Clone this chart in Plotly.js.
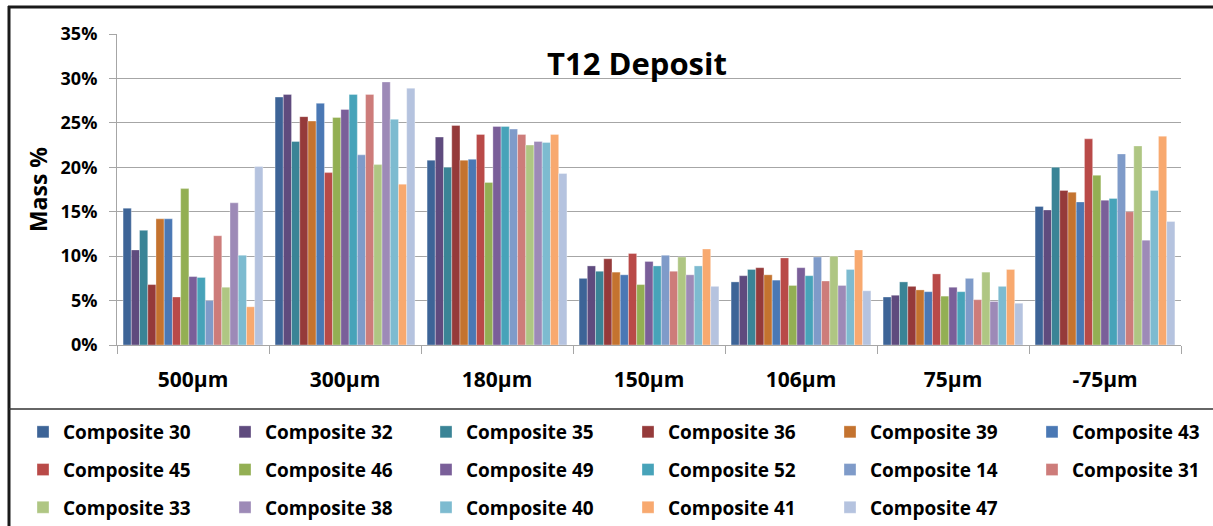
<!DOCTYPE html>
<html>
<head>
<meta charset="utf-8">
<script src="https://cdn.plot.ly/plotly-3.0.1.min.js"></script>
<style>
  html, body { margin: 0; padding: 0; background: #fff; }
  #chart { width: 1213px; height: 526px; }
</style>
</head>
<body>
<div id="chart"></div>
<script>
const sizes = ["500µm", "300µm", "180µm", "150µm", "106µm", "75µm", "-75µm"];

const composites = [
  "Composite 30", "Composite 32", "Composite 35", "Composite 36", "Composite 39", "Composite 43",
  "Composite 45", "Composite 46", "Composite 49", "Composite 52", "Composite 14", "Composite 31",
  "Composite 33", "Composite 38", "Composite 40", "Composite 41", "Composite 47"
];

// mass % per size fraction, same order as sizes
const c30 = [15.4, 27.9, 20.8, 7.5, 7.1, 5.4, 15.6];
const c32 = [10.7, 28.2, 23.4, 8.9, 7.8, 5.6, 15.2];
const c35 = [12.9, 22.9, 20.0, 8.3, 8.5, 7.1, 20.0];
const c36 = [6.8, 25.7, 24.7, 9.7, 8.7, 6.6, 17.4];
const c39 = [14.2, 25.2, 20.8, 8.2, 7.9, 6.2, 17.2];
const c43 = [14.2, 27.2, 20.9, 7.9, 7.3, 6.0, 16.1];
const c45 = [5.4, 19.4, 23.7, 10.3, 9.8, 8.0, 23.2];
const c46 = [17.6, 25.6, 18.3, 6.8, 6.7, 5.5, 19.1];
const c49 = [7.7, 26.5, 24.6, 9.4, 8.7, 6.5, 16.3];
const c52 = [7.6, 28.2, 24.6, 8.9, 7.8, 6.0, 16.5];
const c14 = [5.0, 21.4, 24.3, 10.1, 9.9, 7.5, 21.5];
const c31 = [12.3, 28.2, 23.7, 8.3, 7.2, 5.1, 15.0];
const c33 = [6.5, 20.3, 22.5, 9.9, 10.0, 8.2, 22.4];
const c38 = [16.0, 29.6, 22.9, 7.9, 6.7, 4.9, 11.8];
const c40 = [10.1, 25.4, 22.8, 8.9, 8.5, 6.6, 17.4];
const c41 = [4.3, 18.1, 23.7, 10.8, 10.7, 8.5, 23.5];
const c47 = [20.1, 28.9, 19.3, 6.6, 6.1, 4.7, 13.9];

const seriesValues = [c30, c32, c35, c36, c39, c43, c45, c46, c49, c52, c14, c31, c33, c38, c40, c41, c47];

const colors = [
  "#3d6497", "#5f4b7e", "#3a8496", "#953a3a", "#c4732f", "#4a78b4",
  "#b94a48", "#93af53", "#7a5f99", "#47a3b9", "#7f9bc9", "#cd7c7a",
  "#afc683", "#9d8ab7", "#7dbbd0", "#f8a96f", "#b5c3df"
];

// plot area in pixels, used to place frame lines and legends
const plotL = 117, plotR = 1181, plotT = 34, plotB = 345;
const px = x => (x - plotL) / (plotR - plotL);
const py = y => (plotB - y) / (plotB - plotT);

// legend laid out as 6 columns, one legend per column
const legendCols = [43, 245, 446, 648, 850, 1052];
const legendId = c => (c === 0 ? "legend" : "legend" + (c + 1));

const traces = composites.map((name, i) => ({
  type: "bar",
  name: name,
  x: sizes,
  y: seriesValues[i],
  marker: { color: colors[i], line: { color: "rgba(255,255,255,0.55)", width: 0.6 } },
  legend: legendId(i % 6),
  legendgroup: name,
  hoverinfo: "name+y"
}));

const font = { family: "'Open Sans', sans-serif", color: "#000", weight: "bold" };

const layout = {
  width: 1213,
  height: 526,
  margin: { l: plotL, r: 1213 - plotR, t: plotT, b: 526 - plotB, autoexpand: false },
  paper_bgcolor: "#fff",
  plot_bgcolor: "#fff",
  barmode: "group",
  bargap: 0.08,
  bargroupgap: 0,
  font: font,
  title: {
    text: "T12 Deposit",
    font: Object.assign({}, font, { size: 31 }),
    x: 637 / 1213,
    xanchor: "center",
    y: 1 - 64 / 526,
    yanchor: "middle"
  },
  xaxis: {
    type: "category",
    tickson: "boundaries",
    ticks: "outside",
    ticklen: 8,
    tickcolor: "#a6a6a6",
    showline: true,
    linecolor: "#a6a6a6",
    showgrid: false,
    tickfont: Object.assign({}, font, { size: 21 }),
    ticklabelstandoff: 16,
    fixedrange: true
  },
  yaxis: {
    range: [0, 35],
    dtick: 5,
    ticksuffix: "%",
    ticks: "outside",
    ticklen: 7,
    tickcolor: "#a6a6a6",
    showline: true,
    linecolor: "#a6a6a6",
    gridcolor: "#a6a6a6",
    gridwidth: 1,
    zeroline: false,
    tickfont: Object.assign({}, font, { size: 18 }),
    ticklabelstandoff: 8,
    title: { text: "Mass %", font: Object.assign({}, font, { size: 23 }), standoff: 6 },
    fixedrange: true
  },
  shapes: [
    { type: "line", xref: "paper", yref: "paper", x0: px(9), x1: px(9), y0: py(6), y1: py(540),
      line: { color: "#1a1a1a", width: 3 } },
    { type: "line", xref: "paper", yref: "paper", x0: px(8), x1: px(1220), y0: py(7), y1: py(7),
      line: { color: "#1a1a1a", width: 3 } },
    { type: "line", xref: "paper", yref: "paper", x0: px(9), x1: px(1220), y0: py(409), y1: py(409),
      line: { color: "#333", width: 1.5 } }
  ]
};

legendCols.forEach((sq, c) => {
  layout[legendId(c)] = {
    orientation: "v",
    x: px(sq - 20),
    xanchor: "left",
    y: py(413),
    yanchor: "top",
    traceorder: "grouped",
    tracegroupgap: 10,
    font: Object.assign({}, font, { size: 19 }),
    bgcolor: "rgba(0,0,0,0)"
  };
});

Plotly.newPlot("chart", traces, layout, { displayModeBar: false, staticPlot: true });
</script>
</body>
</html>
